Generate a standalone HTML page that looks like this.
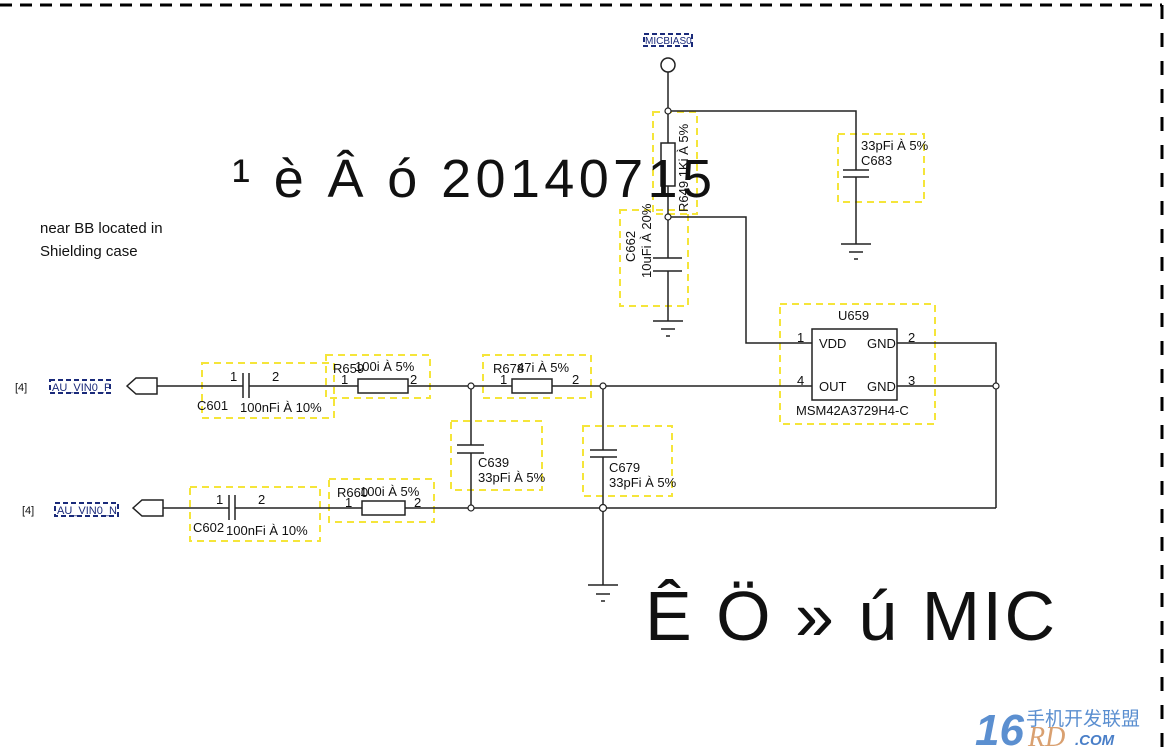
<!DOCTYPE html>
<html><head><meta charset="utf-8"><style>
html,body{margin:0;padding:0;background:#fff;}
svg{display:block;}
text{font-family:"Liberation Sans","DejaVu Sans",sans-serif;fill:#111;}
</style></head><body>
<svg width="1167" height="756" viewBox="0 0 1167 756" xmlns="http://www.w3.org/2000/svg">
<g fill="none" stroke="#000" stroke-width="3">
<line x1="0" y1="5" x2="1162" y2="5" stroke-dasharray="12,8"/>
<line x1="1162" y1="5" x2="1162" y2="756" stroke-dasharray="14,14"/>
</g>
<g fill="none" stroke="#f5e53a" stroke-width="2" stroke-dasharray="7,5">
<rect x="653" y="112" width="44" height="102"/>
<rect x="620" y="210" width="68" height="96"/>
<rect x="838" y="134" width="86" height="68"/>
<rect x="780" y="304" width="155" height="120"/>
<rect x="202" y="363" width="132" height="55"/>
<rect x="326" y="355" width="104" height="43"/>
<rect x="483" y="355" width="108" height="43"/>
<rect x="451" y="421" width="91" height="69"/>
<rect x="583" y="426" width="89" height="70"/>
<rect x="190" y="487" width="130" height="54"/>
<rect x="329" y="479" width="105" height="43"/>
</g>
<g fill="none" stroke="#222" stroke-width="1.5">
<circle cx="668" cy="65" r="7"/>
<line x1="668" y1="72" x2="668" y2="143"/>
<rect x="661" y="143" width="14" height="43" fill="#fff"/>
<line x1="668" y1="186" x2="668" y2="258"/>
<line x1="653" y1="258" x2="682" y2="258"/>
<line x1="653" y1="271" x2="682" y2="271"/>
<line x1="668" y1="271" x2="668" y2="321"/>
<line x1="653" y1="321" x2="683" y2="321"/><line x1="661" y1="329" x2="675" y2="329"/><line x1="666" y1="336" x2="670" y2="336"/>
<polyline points="668,111 856,111 856,170"/>
<line x1="843" y1="170" x2="869" y2="170"/><line x1="843" y1="177" x2="869" y2="177"/>
<line x1="856" y1="177" x2="856" y2="244"/>
<line x1="841" y1="244" x2="871" y2="244"/><line x1="849" y1="252" x2="863" y2="252"/><line x1="854" y1="259" x2="858" y2="259"/>
<polyline points="668,217 746,217 746,343 812,343"/>
<rect x="812" y="329" width="85" height="71"/>
<polyline points="897,343 996,343 996,508"/>
<line x1="897" y1="386" x2="996" y2="386"/>
<polygon points="127,386 136,378 157,378 157,394 136,394"/>
<line x1="157" y1="386" x2="243" y2="386"/>
<line x1="243" y1="373" x2="243" y2="398"/><line x1="249" y1="373" x2="249" y2="398"/>
<line x1="249" y1="386" x2="358" y2="386"/>
<rect x="358" y="379" width="50" height="14"/>
<line x1="408" y1="386" x2="512" y2="386"/>
<rect x="512" y="379" width="40" height="14"/>
<line x1="552" y1="386" x2="812" y2="386"/>
<polygon points="133,508 142,500 163,500 163,516 142,516"/>
<line x1="163" y1="508" x2="229" y2="508"/>
<line x1="229" y1="495" x2="229" y2="520"/><line x1="235" y1="495" x2="235" y2="520"/>
<line x1="235" y1="508" x2="362" y2="508"/>
<rect x="362" y="501" width="43" height="14"/>
<line x1="405" y1="508" x2="996" y2="508"/>
<line x1="471" y1="386" x2="471" y2="445"/>
<line x1="457" y1="445" x2="484" y2="445"/><line x1="457" y1="453" x2="484" y2="453"/>
<line x1="471" y1="453" x2="471" y2="508"/>
<line x1="603" y1="386" x2="603" y2="450"/>
<line x1="590" y1="450" x2="617" y2="450"/><line x1="590" y1="457" x2="617" y2="457"/>
<line x1="603" y1="457" x2="603" y2="585"/>
<line x1="588" y1="585" x2="618" y2="585"/><line x1="596" y1="594" x2="610" y2="594"/><line x1="601" y1="601" x2="605" y2="601"/>
</g>
<g fill="#fff" stroke="#222" stroke-width="1.2">
<circle cx="668" cy="111" r="3"/><circle cx="668" cy="217" r="3"/>
<circle cx="471" cy="386" r="3"/><circle cx="603" cy="386" r="3"/>
<circle cx="471" cy="508" r="3"/><circle cx="603" cy="508" r="3.5"/>
<circle cx="996" cy="386" r="3"/>
</g>
<g fill="none" stroke="#1a2a7a" stroke-width="2" stroke-dasharray="5,3">
<rect x="644" y="34" width="48" height="12"/>
<rect x="50" y="380" width="60" height="13"/>
<rect x="55" y="503" width="63" height="13"/>
</g>
<g font-size="11">
<text x="645" y="44" style="fill:#1a2a7a" font-size="10">MICBIAS0</text>
<text x="52" y="391" style="fill:#1a2a7a">AU_VIN0_P</text>
<text x="57" y="514" style="fill:#1a2a7a">AU_VIN0_N</text>
<text x="15" y="391">[4]</text>
<text x="22" y="514">[4]</text>
</g>
<g font-size="13">
<text x="861" y="150">33pFi  À 5%</text>
<text x="861" y="165">C683</text>
<text transform="translate(688,212) rotate(-90)">R649 1Ki  À 5%</text>
<text transform="translate(635,262) rotate(-90)">C662</text>
<text transform="translate(651,278) rotate(-90)">10uFi  À 20%</text>
<text x="838" y="320">U659</text>
<text x="819" y="348">VDD</text><text x="867" y="348">GND</text>
<text x="819" y="391">OUT</text><text x="867" y="391">GND</text>
<text x="797" y="342">1</text><text x="797" y="385">4</text>
<text x="908" y="342">2</text><text x="908" y="385">3</text>
<text x="796" y="415">MSM42A3729H4-C</text>
<text x="230" y="381">1</text><text x="272" y="381">2</text>
<text x="197" y="410">C601</text><text x="240" y="412">100nFi  À 10%</text>
<text x="333" y="373">R659</text><text x="355" y="371">100i  À 5%</text>
<text x="341" y="384">1</text><text x="410" y="384">2</text>
<text x="493" y="373">R678</text><text x="517" y="372">47i  À 5%</text>
<text x="500" y="384">1</text><text x="572" y="384">2</text>
<text x="478" y="467">C639</text><text x="478" y="482">33pFi  À 5%</text>
<text x="609" y="472">C679</text><text x="609" y="487">33pFi  À 5%</text>
<text x="216" y="504">1</text><text x="258" y="504">2</text>
<text x="193" y="532">C602</text><text x="226" y="535">100nFi  À 10%</text>
<text x="337" y="497">R660</text><text x="360" y="496">100i  À 5%</text>
<text x="345" y="507">1</text><text x="414" y="507">2</text>
</g>
<g font-size="15">
<text x="40" y="233">near BB located in</text>
<text x="40" y="256">Shielding case</text>
</g>
<text x="232" y="197" font-size="54" textLength="480" lengthAdjust="spacing">¹ è Â ó  20140715</text>
<text x="645" y="640" font-size="70" textLength="410" lengthAdjust="spacing">Ê Ö » ú MIC</text>
<text x="975" y="745" font-size="44" font-style="italic" font-weight="bold" style="fill:#5b8fd0">16</text>
<text x="1026" y="725" font-size="19" style="fill:#5b8fd0;font-family:'Noto Sans CJK SC',sans-serif">手机开发联盟</text>
<text x="1028" y="746" font-size="28" font-style="italic" style="fill:#d9a070;font-family:'Liberation Serif',serif">RD</text>
<text x="1075" y="745" font-size="15" font-style="italic" font-weight="bold" style="fill:#4a7fc8">.COM</text>
</svg>
</body></html>
